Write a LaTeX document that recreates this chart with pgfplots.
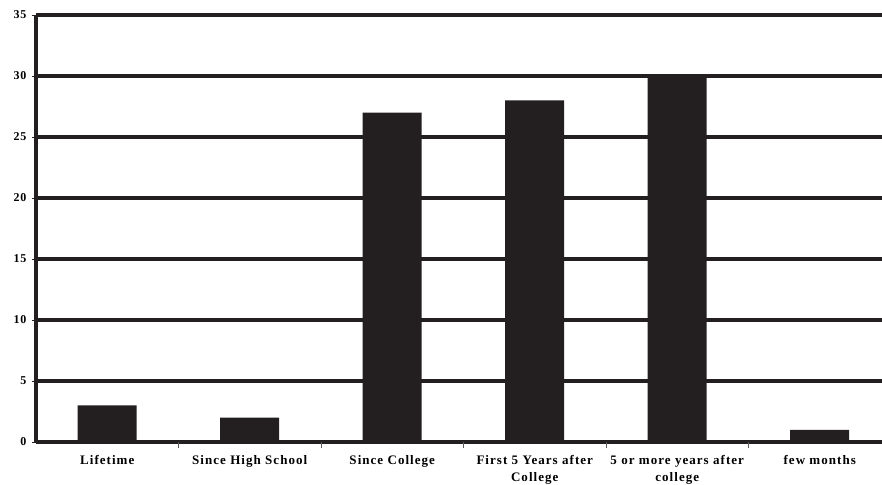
\documentclass[border=0pt]{standalone}
\usepackage{fontspec}
\setmainfont{Liberation Serif}
\newfontfamily\lblfont[LetterSpace=8]{Liberation Serif}
\newfontfamily\ylblfont[LetterSpace=6]{Liberation Serif}
\usepackage{pgfplots}
\pgfplotsset{compat=1.18}
\definecolor{barc}{HTML}{231F20}
\begin{document}
\begin{tikzpicture}
\begin{axis}[
  scale only axis,
  width=846pt, height=427pt,
  xmin=-0.5, xmax=5.437,
  ymin=0, ymax=35,
  ytick={0,5,...,35},
  xtick={0,...,5},
  xticklabels={Lifetime,Since High School,Since College,First 5 Years after\\College,5 or more years after\\college,few months},
  x tick label style={font=\lblfont\fontsize{13}{17}\selectfont\bfseries, align=center, text width=142pt, yshift=-6pt},
  y tick label style={font=\ylblfont\fontsize{12}{14}\selectfont\bfseries, xshift=-2pt},
  /pgf/number format/assume math mode=true,
  axis x line=bottom, axis y line=left,
  axis line style={line width=3.2pt, color=barc, -},
  ymajorgrids,
  major grid style={line width=3.2pt, color=barc},
  xtick style={draw=none},
  ytick style={line width=0.6pt, color=barc},
  tick align=outside,
  major tick length=4pt,
  extra x ticks={0.5,1.5,2.5,3.5,4.5},
  extra x tick labels={},
  extra x tick style={xtick style={draw=gray!70!black, line width=0.6pt}, major tick length=6pt, grid=none},
  ybar, bar width=59pt,
  clip=false,
]
\addplot[fill=barc, draw=none] coordinates {(0,3) (1,2) (2,27) (3,28) (4,30) (5,1)};
\end{axis}
\pgfresetboundingbox
\path (-36pt,-42pt) rectangle (846pt,442pt);
\end{tikzpicture}
\end{document}
